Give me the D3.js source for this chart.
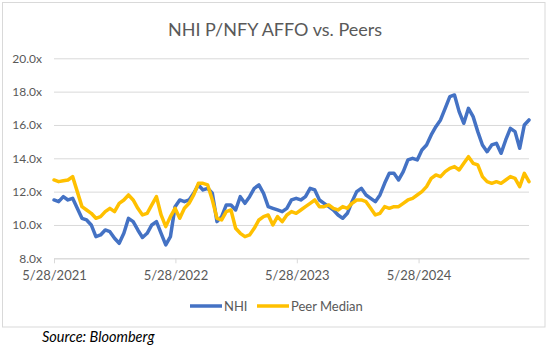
<!DOCTYPE html>
<html>
<head>
<meta charset="utf-8">
<script src="https://cdn.jsdelivr.net/npm/d3@7"></script>
<style>
  html, body { margin: 0; padding: 0; background: #fff; }
  #chart { width: 550px; height: 351px; }
  text { font-family: Lato, "Open Sans", sans-serif; }
</style>
</head>
<body>
<div id="chart"></div>
<script>
// NHI P/NFY AFFO vs. Peers - biweekly readings from 5/28/2021
const startDate = new Date(2021, 4, 28);
const nhi = [
  11.5, 11.4, 11.7, 11.5, 11.6, 11.0, 10.4, 10.3, 10.0, 9.3,
  9.4, 9.7, 9.6, 9.2, 8.9, 9.5, 10.4, 10.2, 9.7, 9.25,
  9.5, 10.0, 10.2, 9.5, 8.8, 9.3, 11.1, 11.5, 11.4, 11.5,
  11.9, 12.4, 12.1, 12.2, 11.9, 10.2, 10.5, 11.2, 11.2, 10.9,
  11.7, 11.3, 11.7, 12.2, 12.4, 11.9, 11.1, 11.0, 10.9, 10.8,
  11.0, 11.5, 11.6, 11.5, 11.7, 12.2, 12.1, 11.5, 11.3, 11.1,
  10.9, 10.6, 10.4, 10.7, 11.4, 12.0, 12.2, 11.8, 11.6, 11.4,
  11.8, 12.5, 13.1, 13.1, 12.7, 13.2, 13.9, 14.0, 13.9, 14.5,
  14.8, 15.4, 15.9, 16.3, 17.0, 17.7, 17.8, 16.8, 16.1, 17.0,
  16.5, 15.6, 14.8, 14.4, 14.8, 14.9, 14.3, 15.1, 15.8, 15.6,
  14.6, 16.0, 16.3
];
const peerMedian = [
  12.7, 12.6, 12.65, 12.7, 12.9, 12.0, 11.1, 10.9, 10.7, 10.4,
  10.5, 10.8, 11.0, 10.8, 11.3, 11.5, 11.8, 11.5, 11.0, 10.6,
  10.7, 11.2, 11.7, 10.6, 9.9, 10.5, 11.0, 10.4, 11.0, 11.3,
  11.8, 12.5, 12.5, 12.4, 11.5, 10.4, 10.3, 10.8, 10.9, 9.8,
  9.5, 9.3, 9.4, 9.8, 10.3, 10.5, 10.6, 10.0, 10.5, 10.2,
  10.6, 10.8, 10.7, 10.9, 11.1, 11.3, 11.5, 11.1, 11.1, 11.2,
  11.0, 10.9, 11.1, 11.0, 11.3, 11.5, 11.5, 11.4, 11.0, 10.6,
  10.7, 11.1, 11.0, 11.1, 11.1, 11.3, 11.5, 11.6, 11.8, 12.0,
  12.3, 12.8, 13.0, 12.9, 13.2, 13.4, 13.5, 13.3, 13.7, 14.1,
  13.7, 13.6, 12.9, 12.6, 12.5, 12.6, 12.5, 12.7, 12.9, 12.8,
  12.3, 13.1, 12.6
];
// sampling calendar: one reading every 14 days
const dates = nhi.map((_, i) => d3.timeDay.offset(startDate, i * 14));

const yTicks = [8, 10, 12, 14, 16, 18, 20];
const xTickDates = [new Date(2021, 4, 28), new Date(2022, 4, 28), new Date(2023, 4, 28), new Date(2024, 4, 28)];
const xTickLabels = ['5/28/2021', '5/28/2022', '5/28/2023', '5/28/2024'];
const seriesNames = ['NHI', 'Peer Median'];
const colors = ['#4472C4', '#FFC000'];

const W = 550, H = 351;
const plot = {left: 54, right: 529, top: 58.3, bottom: 258.3};

const svg = d3.select('#chart')
  .append('svg')
  .attr('width', W)
  .attr('height', H);

// chart frame
svg.append('rect')
  .attr('x', 2.5).attr('y', 2.5)
  .attr('width', 542.5).attr('height', 324.5)
  .attr('fill', '#fff')
  .attr('stroke', '#d9d9d9');

const x = d3.scaleTime()
  .domain([dates[0], dates[dates.length - 1]])
  .range([plot.left, plot.right]);
const y = d3.scaleLinear()
  .domain([8, 20])
  .range([plot.bottom, plot.top]);

// Title
svg.append('text')
  .attr('x', 275)
  .attr('y', 36)
  .attr('text-anchor', 'middle')
  .attr('font-size', '18px')
  .attr('fill', '#595959')
  .text('NHI P/NFY AFFO vs. Peers');

// Grid lines + y labels
const yAxis = svg.append('g')
  .attr('transform', `translate(${plot.left},0)`)
  .call(d3.axisLeft(y)
    .tickValues(yTicks)
    .tickSize(-(plot.right - plot.left))
    .tickPadding(12)
    .tickFormat(d => d3.format('.1f')(d) + 'x'));
yAxis.select('.domain').remove();
yAxis.selectAll('line')
  .attr('stroke', '#d9d9d9')
  .attr('stroke-width', 1);
yAxis.selectAll('text')
  .attr('fill', '#595959')
  .style('font-size', '12px');

// x axis
const xAxis = svg.append('g')
  .attr('transform', `translate(0,${plot.bottom})`)
  .call(d3.axisBottom(x)
    .tickValues(xTickDates)
    .tickSize(5)
    .tickSizeOuter(0)
    .tickPadding(7)
    .tickFormat((d, i) => xTickLabels[i]));
xAxis.select('.domain').attr('stroke', '#d9d9d9');
xAxis.selectAll('line').attr('stroke', '#d9d9d9');
xAxis.selectAll('text')
  .attr('fill', '#595959')
  .style('font-size', '13px');

// Lines
const line = d3.line()
  .x((d, i) => x(dates[i]))
  .y(d => y(d));

[nhi, peerMedian].forEach((s, k) => {
  svg.append('path')
    .datum(s)
    .attr('fill', 'none')
    .attr('stroke', colors[k])
    .attr('stroke-width', 3.5)
    .attr('stroke-linejoin', 'round')
    .attr('stroke-linecap', 'round')
    .attr('d', line);
});

// Legend
const legendX = [190, 257];
seriesNames.forEach((name, k) => {
  const g = svg.append('g').attr('transform', `translate(${legendX[k]},306)`);
  g.append('line')
    .attr('x1', 0).attr('x2', 32)
    .attr('stroke', colors[k])
    .attr('stroke-width', 3.5);
  g.append('text')
    .attr('x', 34)
    .attr('y', 4.5)
    .attr('font-size', '13px')
    .attr('fill', '#595959')
    .text(name);
});

// Source note
svg.append('text')
  .attr('x', 42)
  .attr('y', 342)
  .attr('font-size', '14.5px')
  .attr('font-style', 'italic')
  .attr('fill', '#000')
  .text('Source: Bloomberg');
</script>
</body>
</html>
